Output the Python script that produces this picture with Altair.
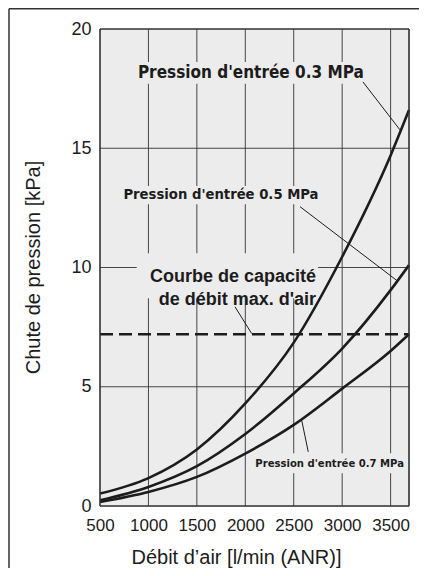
import altair as alt
import pandas as pd

# --- data -------------------------------------------------------------------
flow = [500, 1000, 1500, 2000, 2500, 3000, 3500, 3690]          # l/min (ANR)
drop_03 = [0.52, 1.17, 2.37, 4.30, 6.85, 10.45, 14.70, 16.60]     # kPa, 0.3 MPa
drop_05 = [0.24, 0.80, 1.67, 3.02, 4.72, 6.60, 9.05, 10.10]       # kPa, 0.5 MPa
drop_07 = [0.17, 0.59, 1.22, 2.20, 3.40, 4.92, 6.50, 7.20]        # kPa, 0.7 MPa
series_names = ["0.3 MPa", "0.5 MPa", "0.7 MPa"]
max_capacity = 7.2

x_ticks = [500, 1000, 1500, 2000, 2500, 3000, 3500]
y_ticks = [0, 5, 10, 15, 20]
x_domain = [500, 3690]
y_domain = [0, 20]

label_03 = "Pression d'entrée 0.3 MPa"
label_05 = "Pression d'entrée 0.5 MPa"
label_07 = "Pression d'entrée 0.7 MPa"
label_cap = "Courbe de capacité\nde débit max. d'air"

# --- tables -------------------------------------------------------------------
rows = []
for name, vals in zip(series_names, [drop_03, drop_05, drop_07]):
    for f, d in zip(flow, vals):
        rows.append({"flow": float(f), "drop": float(d), "series": name})
curves = pd.DataFrame(rows)

xs = alt.Scale(domain=x_domain, nice=False, zero=False)
ys = alt.Scale(domain=y_domain, nice=False, zero=False)

FONT = "Liberation Sans"
NARROW = "Liberation Sans Narrow, DejaVu Sans Condensed, Roboto, Liberation Sans"
INK = "#1c1c1c"
LINE_GREY = "#333"
PLOT_BG = "#ececec"
BOX_BG = "#ececec"

x_axis = alt.Axis(values=x_ticks, format="d", grid=False, ticks=False, domain=False,
                  labelFlush=False, labelOverlap=False, labelFontSize=17,
                  labelPadding=11, labelFont=FONT, labelColor=INK,
                  title="Débit d’air [l/min (ANR)]", titleFont=FONT,
                  titleFontSize=20, titleFontWeight="normal", titleColor=INK,
                  titleX=136, titleY=51, titleAlign="center",
                  titleBaseline="middle")
y_axis = alt.Axis(values=y_ticks, format="d", grid=False, ticks=False, domain=False,
                  labelFlush=False, labelOverlap=False, labelFontSize=18,
                  labelPadding=9, labelFont=FONT, labelColor=INK,
                  title="Chute de pression [kPa]", titleFont=FONT,
                  titleFontSize=20, titleFontWeight="normal", titleColor=INK,
                  titleX=-67, titleY=238, titleAngle=270, titleAlign="center",
                  titleBaseline="middle")


def X(field):
    return alt.X(field, scale=xs, axis=x_axis)


def Y(field):
    return alt.Y(field, scale=ys, axis=y_axis)


# plot background built from the domain
bg_df = pd.DataFrame({"x": [float(x_domain[0])], "x2": [float(x_domain[1])],
                      "y": [float(y_domain[0])], "y2": [float(y_domain[1])]})
plot_bg = alt.Chart(bg_df).mark_rect(color=PLOT_BG).encode(
    x=X("x:Q"), x2="x2:Q", y=Y("y:Q"), y2="y2:Q")

# grid lines built from the tick arrays
vgrid_df = pd.DataFrame({"x": [float(v) for v in x_ticks[1:]],
                         "y": float(y_domain[0]), "y2": float(y_domain[1])})
vgrid = alt.Chart(vgrid_df).mark_rule(color=LINE_GREY, strokeWidth=0.9).encode(
    x=X("x:Q"), y=Y("y:Q"), y2="y2:Q")
hgrid_df = pd.DataFrame({"y": [float(v) for v in y_ticks[1:-1]],
                         "x": float(x_domain[0]), "x2": float(x_domain[1])})
hgrid = alt.Chart(hgrid_df).mark_rule(color=LINE_GREY, strokeWidth=0.9).encode(
    y=Y("y:Q"), x=X("x:Q"), x2="x2:Q")

# plot border: two vertical and two horizontal edge rules
bv_df = pd.DataFrame({"x": [float(v) for v in x_domain],
                      "y": float(y_domain[0]), "y2": float(y_domain[1])})
bh_df = pd.DataFrame({"y": [float(v) for v in y_domain],
                      "x": float(x_domain[0]), "x2": float(x_domain[1])})
border_v = alt.Chart(bv_df).mark_rule(color=LINE_GREY, strokeWidth=1.6).encode(
    x=X("x:Q"), y=Y("y:Q"), y2="y2:Q")
border_h = alt.Chart(bh_df).mark_rule(color=LINE_GREY, strokeWidth=1.6).encode(
    y=Y("y:Q"), x=X("x:Q"), x2="x2:Q")

lines = alt.Chart(curves).mark_line(
    interpolate="monotone", color=INK, strokeWidth=2.6
).encode(x=X("flow:Q"), y=Y("drop:Q"), detail="series:N")

cap_df = pd.DataFrame({"x": [float(x_domain[0])], "x2": [float(x_domain[1])],
                       "y": [max_capacity]})
cap_line = alt.Chart(cap_df).mark_rule(
    color=INK, strokeWidth=2.6, strokeDash=[13, 6]
).encode(x=X("x:Q"), x2="x2:Q", y=Y("y:Q"))

# label background boxes (data units)
boxes = pd.DataFrame({
    "x": [737.0, 686.0, 879.0, 2015.0],
    "x2": [3205.0, 2751.0, 2751.0, 3649.0],
    "y": [17.70, 12.65, 8.71, 1.37],
    "y2": [18.62, 13.42, 10.60, 2.21],
})
box_layer = alt.Chart(boxes).mark_rect(color=BOX_BG).encode(
    x=X("x:Q"), x2="x2:Q", y=Y("y:Q"), y2="y2:Q")

# leader lines
leaders = pd.DataFrame({
    "x": [3215.0, 2565.0, 1894.0, 2582.0],
    "y": [17.78, 12.55, 8.35, 3.60],
    "x2": [3597.0, 3566.0, 2066.0, 2650.0],
    "y2": [15.77, 9.45, 7.23, 2.27],
})
leader_layer = alt.Chart(leaders).mark_rule(color=INK, strokeWidth=1).encode(
    x=X("x:Q"), x2="x2:Q", y=Y("y:Q"), y2="y2:Q")


def label(text, x, y, size, font, align="center"):
    df = pd.DataFrame({"x": [float(x)], "y": [float(y)], "t": [text]})
    return alt.Chart(df).mark_text(
        font=font, fontSize=size, fontWeight="bold", color=INK,
        align=align, baseline="middle", lineBreak="\n", lineHeight=23
    ).encode(x=X("x:Q"), y=Y("y:Q"), text="t:N")


t03 = label(label_03, 2057, 18.16, 17, NARROW)
t05 = label(label_05, 1749, 13.04, 14.7, NARROW)
t07 = label(label_07, 2871, 1.78, 11.2, NARROW)
tcap = label(label_cap, 2730, 9.61, 18, FONT, align="right")

frame_df = pd.DataFrame({"k": [0.5]})
frame_left = alt.Chart(frame_df).mark_rule(color="#333", strokeWidth=1.5).encode(
    x=alt.value(-91), x2=alt.value(-91), y=alt.value(-20.2), y2=alt.value(560))
frame_top = alt.Chart(frame_df).mark_rule(color="#333", strokeWidth=1.5).encode(
    x=alt.value(-91), x2=alt.value(330), y=alt.value(-20.2), y2=alt.value(-20.2))

chart = alt.layer(
    plot_bg, vgrid, hgrid, box_layer, lines, cap_line, leader_layer,
    t03, t05, t07, tcap, border_v, border_h, frame_left, frame_top
).properties(
    width=309, height=477,
    autosize=alt.AutoSizeParams(type="none"),
    padding={"left": 92, "top": 21, "right": 10, "bottom": 62},
    background="white",
)

chart.save("out.html", embed_options={"renderer": "svg", "actions": False})
